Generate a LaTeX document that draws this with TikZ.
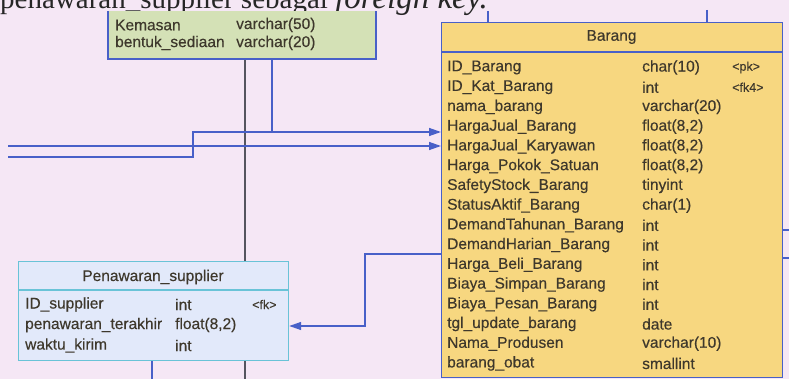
\documentclass[tikz,border=0pt]{standalone}
\usepackage{fontspec}
\setmainfont{Liberation Serif}
\newfontfamily\erfont{Liberation Sans}[FakeBold=0.35]
\usetikzlibrary{arrows.meta}
\definecolor{bg}{RGB}{245,231,245}
\definecolor{lineblue}{RGB}{72,96,200}
\definecolor{barfill}{RGB}{247,215,128}
\definecolor{kemfill}{RGB}{212,225,182}
\definecolor{penfill}{RGB}{226,233,250}
\definecolor{penborder}{RGB}{105,195,215}
\definecolor{txt}{RGB}{62,56,44}
\definecolor{greyline}{RGB}{85,85,95}
\tikzset{
  cell/.style={anchor=west, inner sep=0pt, font=\erfont\fontsize{15.5}{18}\selectfont, text=txt},
  keycell/.style={anchor=west, inner sep=0pt, font=\erfont\fontsize{12.5}{15}\selectfont, text=txt},
  title/.style={anchor=center, inner sep=0pt, font=\erfont\fontsize{15.5}{18}\selectfont, text=txt},
  rel/.style={draw=lineblue, line width=1.4pt},
  relarrow/.style={rel, -{Triangle[length=12pt,width=8pt]}},
  tablebox/.style={inner sep=0pt, anchor=north west, line width=1.2pt}
}
\begin{document}
\begin{tikzpicture}[x=1pt,y=-1pt]
\useasboundingbox (0,0) rectangle (789,379);
\fill[bg] (0,0) rectangle (789,379);

% heading text of the page (cut at the top edge, as in the reference)
\node[anchor=base west, inner sep=0pt, font=\fontsize{29}{30}\selectfont, text=black!85] (head) at (0,9)
  {penawaran\_supplier sebagai \textit{\fontsize{33}{30}\selectfont foreign key.}};

% grey connector (behind Penawaran box)
\coordinate (g1) at (245,59);
\coordinate (g2) at (245,379);
\draw[greyline, line width=1.1pt] (g1) -- (g2);

% Kemasan (partial table)
\fill[kemfill] (108,11) rectangle (376,59);
\draw[lineblue, line width=1.2pt] (108,11) -- (108,59) -- (376,59) -- (376,11);
\node[cell] (k1) at (115,25) {Kemasan};
\node[cell] (k1t) at (236,25) {varchar(50)};
\node[cell] (k2) at (115,43) {bentuk\_sediaan};
\node[cell] (k2t) at (236,43) {varchar(20)};

% Barang table
\node[tablebox, draw=lineblue, fill=barfill, minimum width=341pt, minimum height=355pt] (barang) at (441,22) {};
\draw[lineblue, line width=1.2pt] (barang.west |- 0,52) -- (barang.east |- 0,52);
\node[title] (barangT) at (611.5,37) {Barang};
\foreach \n/\t/\k [count=\i from 0] in {
  {ID\_Barang}/{char(10)}/{<pk>},
  {ID\_Kat\_Barang}/{int}/{<fk4>},
  {nama\_barang}/{varchar(20)}/{},
  {HargaJual\_Barang}/{float(8,2)}/{},
  {HargaJual\_Karyawan}/{float(8,2)}/{},
  {Harga\_Pokok\_Satuan}/{float(8,2)}/{},
  {SafetyStock\_Barang}/{tinyint}/{},
  {StatusAktif\_Barang}/{char(1)}/{},
  {DemandTahunan\_Barang}/{int}/{},
  {DemandHarian\_Barang}/{int}/{},
  {Harga\_Beli\_Barang}/{int}/{},
  {Biaya\_Simpan\_Barang}/{int}/{},
  {Biaya\_Pesan\_Barang}/{int}/{},
  {tgl\_update\_barang}/{date}/{},
  {Nama\_Produsen}/{varchar(10)}/{},
  {barang\_obat}/{smallint}/{}}{
  \node[cell] (bn\i) at (447,{67.5+19.73*\i}) {\n};
  \node[cell] (bt\i) at (642,{67.5+19.73*\i}) {\t};
  \node[keycell] (bk\i) at (732,{67.5+19.73*\i}) {\k};
}

% Penawaran_supplier table
\node[tablebox, draw=penborder, fill=penfill, minimum width=270pt, minimum height=99pt] (pen) at (18,261) {};
\draw[penborder, line width=1.2pt] (pen.west |- 0,290) -- (pen.east |- 0,290);
\node[title] (penT) at (153,277) {Penawaran\_supplier};
\node[cell] (p1) at (25,304.5) {ID\_supplier};
\node[cell] (p1t) at (175,304.5) {int};
\node[keycell] (p1k) at (252,304.5) {<fk>};
\node[cell] (p2) at (25,325) {penawaran\_terakhir};
\node[cell] (p2t) at (175,325) {float(8,2)};
\node[cell] (p3) at (25,345.5) {waktu\_kirim};
\node[cell] (p3t) at (175,345.5) {int};

% connectors
\coordinate (la) at (8,157);
\coordinate (lc) at (8,146);
\coordinate (kb) at (272,59);
\coordinate (pbot) at (152,379);
\draw[relarrow] (la) -- (193,157) -- (193,132) -- (barang.west |- 0,132);
\draw[rel] (kb) -- (272,132);
\draw[relarrow] (lc) -- (barang.west |- 0,146);
\draw[relarrow] (barang.west |- 0,254) -- (365,254) -- (365,326) -- (pen.east |- 0,326);
\draw[rel] (pen.south -| pbot) -- (pbot);
\draw[rel] (488,11) -- (barang.north -| 488,0);
\draw[rel] (707,10) -- (barang.north -| 707,0);
\draw[rel] (barang.east |- 0,230) -- (789,230);
\draw[rel] (barang.east |- 0,258) -- (789,258);
\end{tikzpicture}
\end{document}
